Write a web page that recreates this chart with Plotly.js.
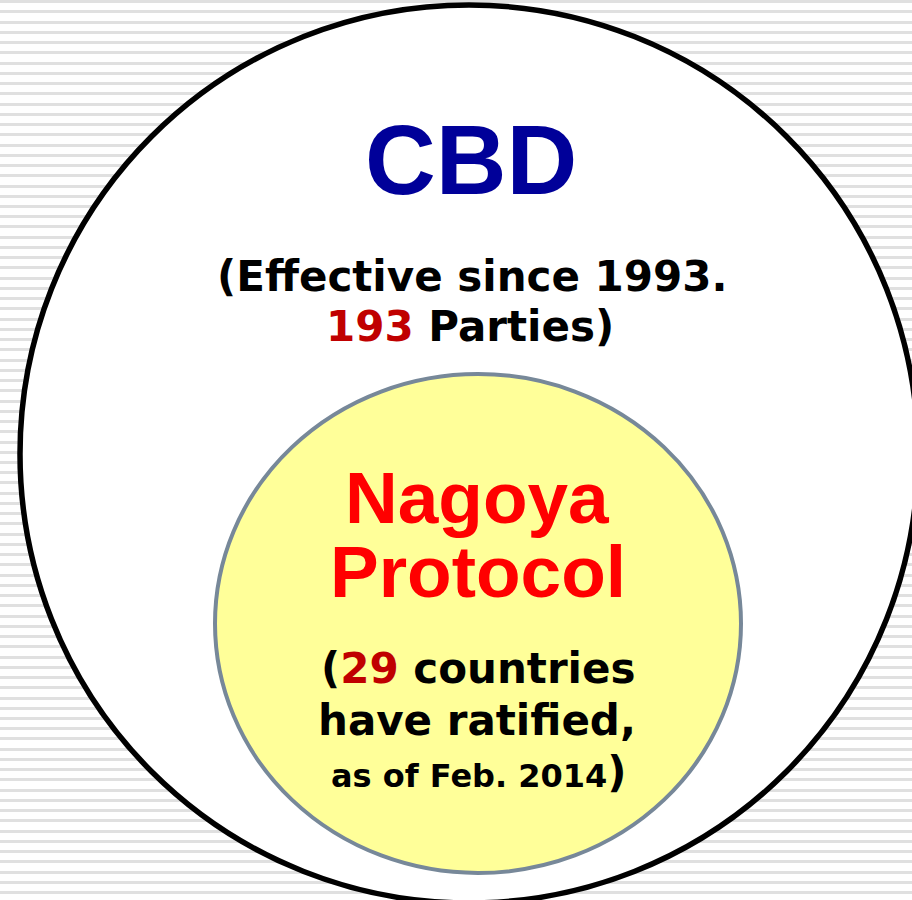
<!DOCTYPE html>
<html>
<head>
<meta charset="utf-8">
<script src="https://cdn.plot.ly/plotly-3.0.1.min.js"></script>
<style>html,body{margin:0;padding:0;background:#fff;}#chart{width:912px;height:900px;}</style>
</head>
<body>
<div id="chart"></div>
<script>
// Data
const treaties = ["CBD", "Nagoya Protocol"];
const treatyParties = [193, 29];
const effectiveSince = [1993];
const statusDate = ["Feb. 2014"];

const verdana = "DejaVu Sans, Verdana, sans-serif";
const arial = "Liberation Sans, Arial, sans-serif";
const darkRed = "#C00000";

const nagoyaWords = treaties[1].split(" ");

const annotations = [
  {x: 471, y: 160, text: "<b>" + treaties[0] + "</b>", font: {family: arial, size: 98, color: "#000099"}},
  {x: 472, y: 276, text: "<b>(Effective since " + effectiveSince[0] + ".</b>", font: {family: verdana, size: 42, color: "#000000"}},
  {x: 470, y: 326, text: "<b><span style='fill:" + darkRed + "'>" + treatyParties[0] + "</span> Parties)</b>", font: {family: verdana, size: 42, color: "#000000"}},
  {x: 477, y: 497, text: "<b>" + nagoyaWords[0] + "</b>", font: {family: arial, size: 73, color: "#FF0000"}},
  {x: 478, y: 571, text: "<b>" + nagoyaWords[1] + "</b>", font: {family: arial, size: 73, color: "#FF0000"}},
  {x: 478, y: 668, text: "<b>(<span style='fill:" + darkRed + "'>" + treatyParties[1] + "</span> countries</b>", font: {family: verdana, size: 42, color: "#000000"}},
  {x: 477, y: 720, text: "<b>have ratified,</b>", font: {family: verdana, size: 42, color: "#000000"}},
  {x: 479, y: 772, text: "<b>as of " + statusDate[0] + "<span style='font-size:42px'>)</span></b>", font: {family: verdana, size: 32, color: "#000000"}}
].map(a => Object.assign({xref: "x", yref: "y", showarrow: false, xanchor: "center", yanchor: "middle"}, a));

const shapes = [
  {type: "circle", xref: "x", yref: "y", x0: 20, x1: 918, y0: 5, y1: 903,
   fillcolor: "#FFFFFF", line: {color: "#000000", width: 5.5}, layer: "above"},
  {type: "circle", xref: "x", yref: "y", x0: 215, x1: 741, y0: 374, y1: 873,
   fillcolor: "#FFFF99", line: {color: "#778899", width: 4}, layer: "above"}
];

const layout = {
  width: 912, height: 900,
  margin: {l: 0, r: 0, t: 0, b: 0, pad: 0},
  paper_bgcolor: "#FFFFFF", plot_bgcolor: "#FFFFFF",
  showlegend: false,
  xaxis: {range: [0, 912], autorange: false, showgrid: false, zeroline: false, showticklabels: false, ticks: "", showline: false, fixedrange: true},
  yaxis: {range: [900, 0], autorange: false, showgrid: true, gridcolor: "#E0E0E0", gridwidth: 3,
          tick0: 1.7, dtick: 10.24, zeroline: false, showticklabels: false, ticks: "", showline: false, fixedrange: true},
  shapes: shapes,
  annotations: annotations
};

Plotly.newPlot("chart", [], layout, {staticPlot: true, displayModeBar: false});
</script>
</body>
</html>
